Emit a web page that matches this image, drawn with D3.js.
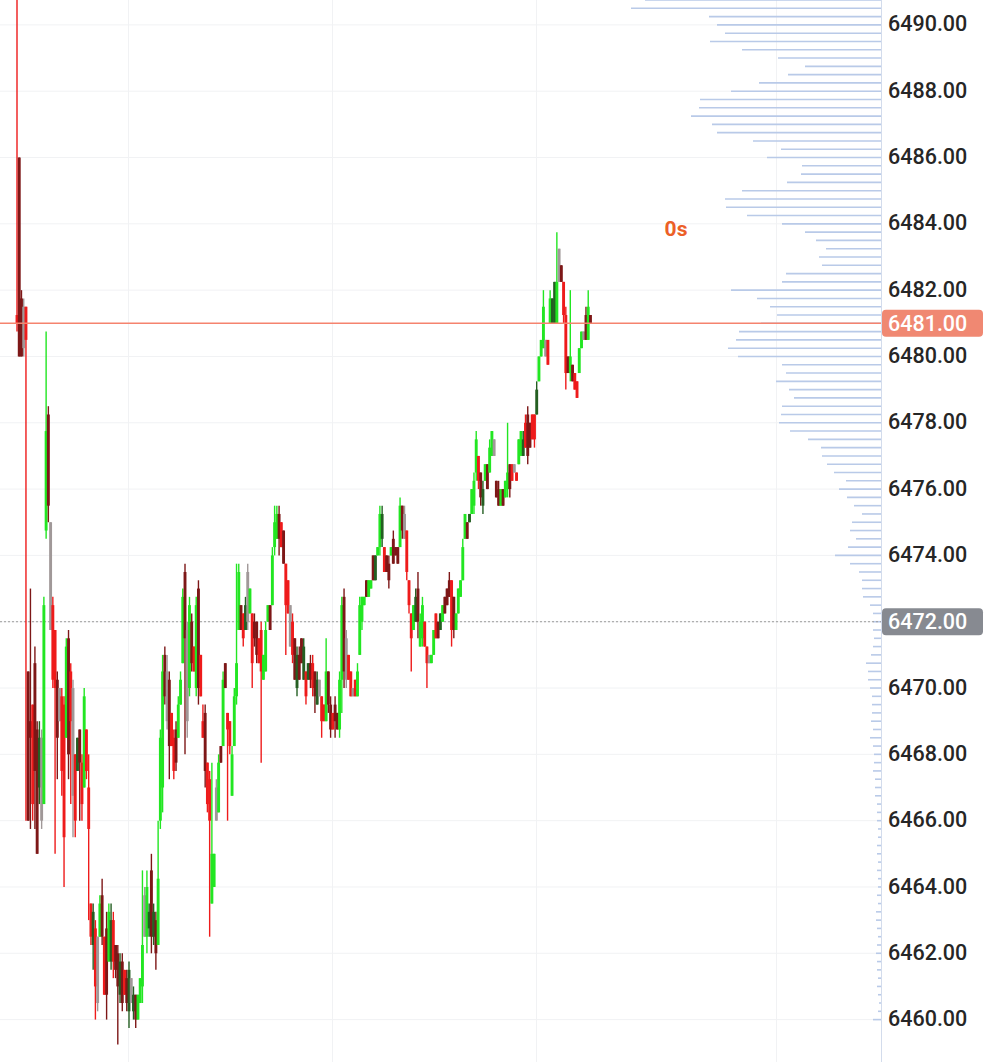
<!DOCTYPE html>
<html>
<head>
<meta charset="utf-8">
<script src="https://cdn.jsdelivr.net/npm/d3@7"></script>
<style>
  html, body { margin: 0; padding: 0; background: #fff; }
  svg { display: block; }
</style>
</head>
<body>
<svg id="chart" width="986" height="1062"></svg>
<script>
// one bar per period, left to right
let highs = [
  6491.75, 6486.0, 6482.0, 6481.75, 6481.5, 6470.5, 6473.0, 6469.5, 6471.25, 6469.0,
  6469.0, 6468.75, 6472.75, 6480.75, 6478.5, 6475.0, 6472.75, 6471.75, 6470.5, 6470.0,
  6470.0, 6469.75, 6471.5, 6471.75, 6470.75, 6470.25, 6468.0, 6468.5, 6468.75, 6468.0,
  6470.0, 6468.75, 6468.0, 6463.5, 6463.5, 6463.0, 6462.5, 6463.75, 6464.25, 6462.5,
  6463.25, 6463.5, 6463.5, 6463.25, 6462.25, 6462.25, 6462.0, 6462.0, 6461.5, 6461.5,
  6461.75, 6461.25, 6461.0, 6460.75, 6460.75, 6461.25, 6464.5, 6464.0, 6464.5, 6463.5,
  6465.0, 6463.5, 6463.25, 6466.0, 6468.75, 6471.0, 6471.25, 6471.0, 6470.5, 6469.25,
  6468.75, 6469.0, 6469.75, 6470.5, 6473.0, 6473.75, 6472.0, 6472.75, 6472.25, 6471.25,
  6472.75, 6473.25, 6471.0, 6469.5, 6469.5, 6467.75, 6467.5, 6467.75, 6465.0, 6467.25,
  6468.0, 6468.25, 6470.5, 6470.75, 6469.25, 6469.0, 6468.25, 6470.0, 6473.75, 6473.75,
  6472.5, 6472.25, 6472.75, 6473.75, 6473.0, 6472.25, 6472.25, 6472.0, 6471.5, 6472.0,
  6471.0, 6472.0, 6472.5, 6472.5, 6474.25, 6475.5, 6475.5, 6475.5, 6475.0, 6474.75,
  6473.75, 6473.25, 6472.5, 6472.25, 6471.5, 6471.25, 6471.25, 6471.5, 6471.5, 6470.5,
  6470.75, 6471.0, 6471.0, 6470.5, 6470.5, 6470.25, 6469.75, 6469.5, 6471.5, 6470.5,
  6469.75, 6469.25, 6469.75, 6469.25, 6470.5, 6472.75, 6473.0, 6471.75, 6471.0, 6470.5,
  6470.0, 6470.25, 6470.75, 6472.75, 6472.75, 6472.75, 6473.25, 6473.25, 6473.25, 6474.0,
  6474.0, 6474.25, 6475.5, 6475.5, 6474.25, 6474.0, 6474.0, 6474.25, 6474.75, 6474.25,
  6474.25, 6475.75, 6475.5, 6475.5, 6474.75, 6473.25, 6472.25, 6472.5, 6473.0, 6473.5,
  6472.25, 6472.75, 6472.0, 6471.25, 6471.0, 6471.0, 6471.75, 6472.25, 6472.0, 6472.25,
  6472.5, 6472.75, 6473.0, 6473.5, 6473.25, 6472.75, 6472.25, 6473.0, 6473.25, 6474.5,
  6475.25, 6475.0, 6475.25, 6476.0, 6476.5, 6477.75, 6477.0, 6476.5, 6476.25, 6476.75,
  6476.75, 6477.5, 6477.75, 6477.5, 6476.25, 6476.25, 6476.0, 6476.0, 6476.25, 6478.0,
  6476.75, 6476.75, 6476.75, 6476.5, 6477.5, 6477.75, 6477.75, 6478.25, 6478.5, 6478.0,
  6478.25, 6478.25, 6479.25, 6480.0, 6480.5, 6482.0, 6480.5, 6480.5, 6482.0, 6481.75,
  6482.25, 6483.75, 6483.25, 6482.75, 6482.25, 6481.5, 6480.0, 6482.0, 6479.75, 6479.5,
  6479.25, 6480.25, 6480.75, 6480.75, 6481.5, 6482.0, 6481.25
];
let lows = [
  6480.75, 6480.0, 6480.0, 6480.0, 6466.0, 6466.0, 6465.75, 6466.0, 6465.75, 6465.0,
  6466.5, 6465.75, 6466.5, 6474.5, 6475.0, 6471.75, 6470.0, 6465.0, 6467.25, 6469.0,
  6466.75, 6464.0, 6468.5, 6467.25, 6466.5, 6465.5, 6465.5, 6467.5, 6466.0, 6466.0,
  6467.0, 6467.25, 6463.0, 6462.25, 6461.5, 6460.0, 6460.25, 6462.5, 6462.25, 6460.75,
  6460.0, 6461.75, 6461.5, 6461.25, 6461.25, 6459.25, 6460.5, 6460.25, 6460.75, 6460.25,
  6459.75, 6460.5, 6460.0, 6459.75, 6460.0, 6460.5, 6460.5, 6462.5, 6462.0, 6462.5,
  6462.0, 6462.25, 6461.5, 6462.25, 6465.75, 6466.25, 6469.5, 6468.75, 6467.25, 6468.25,
  6467.25, 6467.5, 6468.5, 6469.5, 6470.75, 6468.0, 6468.5, 6469.75, 6470.5, 6470.5,
  6469.75, 6469.5, 6469.75, 6468.5, 6467.0, 6466.25, 6462.5, 6463.5, 6464.0, 6466.0,
  6466.25, 6467.75, 6468.25, 6470.0, 6466.0, 6468.0, 6466.75, 6468.25, 6469.5, 6471.75,
  6471.75, 6471.25, 6471.75, 6471.75, 6472.25, 6470.0, 6471.25, 6470.75, 6470.75, 6467.75,
  6470.25, 6470.5, 6472.0, 6471.75, 6472.5, 6474.0, 6474.5, 6474.0, 6474.25, 6473.75,
  6471.0, 6472.25, 6471.25, 6470.75, 6470.25, 6469.75, 6470.25, 6470.75, 6470.25, 6469.5,
  6470.25, 6470.0, 6469.75, 6469.25, 6469.5, 6469.75, 6468.5, 6469.0, 6469.0, 6469.25,
  6468.5, 6468.75, 6468.5, 6468.75, 6468.5, 6469.25, 6470.0, 6470.0, 6470.25, 6469.75,
  6469.75, 6469.75, 6469.75, 6471.0, 6471.75, 6472.5, 6472.75, 6472.75, 6473.0, 6473.25,
  6473.25, 6474.0, 6474.0, 6474.25, 6473.5, 6473.5, 6473.0, 6474.0, 6473.75, 6474.0,
  6473.75, 6474.25, 6474.5, 6474.5, 6473.25, 6472.25, 6470.5, 6471.75, 6472.0, 6471.5,
  6471.25, 6471.25, 6471.25, 6470.0, 6470.75, 6470.75, 6471.0, 6471.5, 6471.5, 6471.75,
  6472.0, 6472.25, 6472.5, 6472.75, 6471.25, 6471.5, 6471.75, 6472.25, 6472.75, 6473.25,
  6474.5, 6474.5, 6475.0, 6475.25, 6475.25, 6476.25, 6476.0, 6475.5, 6475.25, 6476.25,
  6476.0, 6476.5, 6477.0, 6477.0, 6475.75, 6475.5, 6475.5, 6475.5, 6475.75, 6475.75,
  6475.75, 6476.25, 6476.5, 6476.25, 6476.75, 6477.0, 6477.0, 6477.25, 6476.75, 6477.25,
  6477.5, 6477.25, 6478.25, 6479.25, 6480.0, 6480.25, 6480.0, 6479.75, 6481.0, 6481.0,
  6481.0, 6481.0, 6482.25, 6482.25, 6481.0, 6479.0, 6479.5, 6479.25, 6479.25, 6479.0,
  6478.75, 6479.5, 6480.25, 6480.5, 6480.5, 6480.5, 6481.0
];
let opens = [
  6481.25, 6486.0, 6481.75, 6481.5, 6481.5, 6470.5, 6469.0, 6469.5, 6470.75, 6468.75,
  6467.0, 6466.0, 6466.5, 6474.75, 6478.25, 6475.0, 6472.5, 6471.75, 6470.25, 6470.0,
  6469.75, 6469.5, 6468.5, 6471.5, 6470.5, 6470.0, 6468.0, 6467.5, 6468.75, 6467.75,
  6467.0, 6468.75, 6467.0, 6463.5, 6462.25, 6462.75, 6462.5, 6462.5, 6463.75, 6462.5,
  6462.75, 6461.75, 6461.75, 6463.0, 6462.25, 6462.0, 6460.75, 6461.75, 6461.5, 6461.25,
  6460.25, 6461.25, 6460.25, 6460.75, 6460.0, 6460.5, 6461.0, 6462.5, 6462.5, 6462.75,
  6464.5, 6462.5, 6463.0, 6462.25, 6466.0, 6467.0, 6471.0, 6470.5, 6470.25, 6469.25,
  6468.5, 6468.75, 6468.5, 6469.5, 6470.75, 6473.5, 6471.75, 6470.0, 6472.0, 6471.25,
  6470.0, 6473.0, 6471.0, 6469.0, 6469.25, 6467.75, 6467.25, 6463.5, 6464.0, 6466.0,
  6466.25, 6468.25, 6468.25, 6470.75, 6469.25, 6469.0, 6466.75, 6468.25, 6469.75, 6471.75,
  6472.5, 6472.25, 6471.75, 6473.5, 6472.25, 6472.25, 6472.0, 6472.0, 6471.5, 6471.75,
  6470.25, 6470.5, 6472.0, 6472.5, 6472.5, 6474.25, 6474.5, 6475.25, 6475.0, 6474.75,
  6473.75, 6473.25, 6472.5, 6472.0, 6471.5, 6470.0, 6471.0, 6471.5, 6470.25, 6470.5,
  6470.25, 6470.75, 6470.75, 6470.5, 6469.5, 6470.25, 6469.75, 6469.5, 6469.0, 6470.5,
  6469.5, 6469.25, 6469.5, 6469.25, 6468.75, 6470.25, 6472.75, 6470.25, 6471.0, 6470.5,
  6470.0, 6470.25, 6469.75, 6471.0, 6472.0, 6472.5, 6473.25, 6472.75, 6473.0, 6474.0,
  6473.25, 6474.0, 6474.25, 6474.5, 6474.25, 6474.0, 6473.75, 6474.0, 6474.5, 6474.25,
  6474.25, 6474.25, 6475.5, 6475.25, 6474.75, 6473.25, 6472.25, 6471.75, 6472.0, 6473.0,
  6471.25, 6471.5, 6472.0, 6471.25, 6471.0, 6470.75, 6471.0, 6472.25, 6472.0, 6471.75,
  6472.0, 6472.75, 6473.0, 6473.25, 6473.25, 6472.75, 6471.75, 6472.25, 6472.75, 6473.25,
  6474.5, 6475.0, 6475.0, 6475.25, 6475.5, 6476.5, 6477.0, 6476.5, 6475.5, 6476.25,
  6476.75, 6476.5, 6477.0, 6477.5, 6476.25, 6476.0, 6475.5, 6476.0, 6475.75, 6476.0,
  6476.75, 6476.75, 6476.75, 6476.5, 6476.75, 6477.0, 6477.0, 6478.0, 6478.25, 6478.0,
  6478.25, 6478.25, 6478.25, 6479.25, 6480.0, 6480.25, 6480.5, 6480.5, 6481.0, 6481.0,
  6481.0, 6481.0, 6483.25, 6482.75, 6482.25, 6481.25, 6480.0, 6479.5, 6479.75, 6479.5,
  6479.25, 6479.5, 6480.25, 6480.5, 6481.25, 6480.5, 6481.25
];
let closes = [
  6481.0, 6480.0, 6480.0, 6480.25, 6480.5, 6466.0, 6468.5, 6466.5, 6467.5, 6465.0,
  6468.5, 6468.5, 6472.5, 6477.75, 6475.5, 6471.75, 6470.25, 6470.0, 6468.5, 6469.0,
  6467.5, 6465.5, 6471.25, 6468.0, 6469.0, 6466.75, 6466.0, 6468.5, 6467.75, 6466.5,
  6469.75, 6467.5, 6465.75, 6462.5, 6463.25, 6461.0, 6460.5, 6463.5, 6462.5, 6460.75,
  6460.75, 6463.25, 6463.0, 6461.75, 6461.5, 6461.0, 6461.75, 6460.5, 6460.75, 6460.5,
  6461.5, 6460.5, 6460.75, 6460.0, 6460.75, 6461.25, 6462.25, 6463.75, 6464.0, 6463.25,
  6462.5, 6463.25, 6462.0, 6464.25, 6468.5, 6470.5, 6469.75, 6469.0, 6468.25, 6468.25,
  6467.5, 6467.75, 6469.5, 6470.25, 6472.75, 6471.5, 6469.0, 6472.5, 6470.75, 6470.5,
  6472.5, 6470.0, 6469.75, 6468.5, 6467.5, 6466.5, 6466.0, 6465.0, 6465.0, 6467.0,
  6467.75, 6467.75, 6470.25, 6470.0, 6468.75, 6468.25, 6468.0, 6469.75, 6470.75, 6473.5,
  6471.75, 6471.5, 6472.5, 6472.0, 6473.0, 6470.75, 6471.5, 6471.0, 6470.75, 6470.5,
  6471.0, 6471.75, 6472.5, 6471.75, 6474.0, 6475.0, 6475.25, 6474.5, 6474.25, 6473.75,
  6472.5, 6472.25, 6471.25, 6471.0, 6470.25, 6471.0, 6470.25, 6470.75, 6471.25, 6469.75,
  6470.75, 6470.25, 6470.0, 6469.75, 6470.25, 6469.75, 6469.0, 6469.0, 6470.5, 6469.5,
  6468.75, 6468.75, 6469.0, 6468.75, 6470.25, 6472.5, 6470.5, 6471.5, 6470.25, 6469.75,
  6469.75, 6469.75, 6470.5, 6472.5, 6472.75, 6472.75, 6472.75, 6473.25, 6473.25, 6473.25,
  6474.0, 6474.25, 6475.25, 6475.25, 6473.5, 6473.5, 6473.25, 6474.25, 6473.75, 6474.0,
  6473.75, 6475.5, 6474.75, 6474.5, 6473.5, 6472.5, 6471.5, 6472.5, 6472.75, 6472.0,
  6472.0, 6472.5, 6471.25, 6470.75, 6470.75, 6471.0, 6471.75, 6471.5, 6471.5, 6472.25,
  6472.5, 6472.25, 6472.5, 6472.75, 6471.75, 6471.75, 6472.25, 6473.0, 6473.25, 6474.25,
  6475.25, 6474.5, 6475.25, 6476.0, 6476.25, 6477.5, 6476.25, 6475.75, 6476.0, 6476.75,
  6476.0, 6477.25, 6477.75, 6477.0, 6475.75, 6475.5, 6476.0, 6475.5, 6476.25, 6476.5,
  6476.0, 6476.25, 6476.5, 6476.25, 6477.5, 6477.75, 6477.5, 6477.25, 6477.0, 6477.25,
  6477.5, 6477.5, 6479.0, 6480.0, 6480.5, 6481.5, 6480.0, 6479.75, 6481.75, 6481.75,
  6482.25, 6482.25, 6482.25, 6482.25, 6481.25, 6479.5, 6479.5, 6480.0, 6479.25, 6479.0,
  6478.75, 6480.25, 6480.75, 6480.75, 6480.5, 6481.5, 6481.0
];
// G bright up, R bright down, g dark up, r dark down, n neutral
let shades = (
  'RrrnRrrRrr' + 'gnGGrnRRrn' + 'RRGrRnRgrR' + 'GRRRgRnGrR' + 'rGgRrrgrRr' +
  'gngrGGGnGg' + 'rgrGGGrnrR' + 'RrGGGrnGrR' + 'GrRRrRRGGn' + 'GrGrRRGGGG' +
  'rRgnGRrrRR' + 'GGGrGGGrRr' + 'RRnRrgrrgR' + 'grRrgnRRGr' + 'rRrrGGrnRR' +
  'nRGGGGrGGr' + 'gGGgRrrGrr' + 'rGrnRRRGgr' + 'GGRRnGGRrg' + 'GrrrRrGGGG' +
  'GrgGGGRrgG' + 'rGGnrrGrGG' + 'rRnRGGgRrr' + 'RRgGGGnRGg' + 'gGnrRRrGrR' +
  'RGGnrGr').split('');

// volume at price, from 6490.75 down to 6460.00 in 0.25 steps
let profileVolumes = [
  236, 250, 172, 164, 156, 171, 139, 103, 76, 93,
  122, 150, 181, 182, 190, 169, 164, 128, 100, 114,
  79, 80, 94, 139, 156, 155, 134, 99, 76, 65,
  55, 62, 59, 95, 99, 150, 124, 111, 104, 120,
  142, 145, 153, 143, 99, 95, 105, 92, 87, 99,
  100, 102, 91, 73, 60, 59, 54, 47, 35, 42,
  34, 27, 19, 29, 31, 25, 33, 46, 31, 22,
  19, 19, 18, 11, 8, 8, 8, 7, 8, 10,
  15, 13, 13, 11, 9, 9, 9, 10, 8, 11,
  8, 7, 7, 8, 6, 6, 6, 4, 4, 4,
  3, 3, 4, 4, 3, 4, 3, 3, 4, 3,
  5, 5, 4, 3, 4, 5, 4, 4, 3, 4,
  3, 2, 3, 8
];
let profileTop = 6490.75;
let tickSize = 0.25;

let priceTicks = [6460, 6462, 6464, 6466, 6468, 6470, 6472, 6474, 6476, 6478, 6480, 6482, 6484, 6486, 6488, 6490];
let timeMarks = [49.5, 140.5, 231.5, 339];  // bar index of the vertical grid lines
let lastPrice = 6481.00;
let markPrice = 6472.00;
let countdown = '0s';

let width = 986, height = 1062, plotRight = 881;
let svg = d3.select('#chart');

let y = d3.scaleLinear().domain([6460, 6490]).range([1019.6, 24.9]);
let x = d3.scaleLinear().domain([0, 385.7]).range([17, plotRight]);
let volLen = d3.scaleLinear().domain([0, 250]).range([0, 250]);

let shadeColor = {G: '#22e622', R: '#ee1b1b', g: '#245f22', r: '#7d1717', n: '#a09898'};

// grid
svg.append('g').selectAll('line')
    .data(priceTicks)
    .enter().append('line')
    .attr('x1', 0).attr('x2', plotRight)
    .attr('y1', d => y(d)).attr('y2', d => y(d))
    .style('stroke', '#f1f2f4');

svg.append('g').selectAll('line')
    .data(timeMarks)
    .enter().append('line')
    .attr('x1', d => Math.round(x(d)) + 0.5).attr('x2', d => Math.round(x(d)) + 0.5)
    .attr('y1', 0).attr('y2', height)
    .style('stroke', '#f1f2f4');

// volume profile
let levels = profileVolumes.map((v, i) => ({price: profileTop - i * tickSize, vol: v}));
svg.append('g').selectAll('line')
    .data(levels)
    .enter().append('line')
    .attr('x1', d => plotRight - volLen(d.vol)).attr('x2', plotRight)
    .attr('y1', d => y(d.price)).attr('y2', d => y(d.price))
    .style('stroke', '#b9cae8')
    .style('stroke-width', 1.6);

svg.append('line')
    .attr('x1', plotRight + 0.5).attr('x2', plotRight + 0.5)
    .attr('y1', 0).attr('y2', height)
    .style('stroke', '#d3dcec');

// mark price dotted line
svg.append('line')
    .attr('x1', 0).attr('x2', plotRight)
    .attr('y1', y(markPrice)).attr('y2', y(markPrice))
    .style('stroke', '#9b9b9b')
    .style('stroke-dasharray', '2,2');

// bars
let bars = highs.map((h, i) => ({i: i, h: h, l: lows[i], o: opens[i], c: closes[i], s: shades[i]}));
let barG = svg.append('g').selectAll('g')
    .data(bars)
    .enter().append('g');

barG.append('line')
    .attr('x1', d => x(d.i)).attr('x2', d => x(d.i))
    .attr('y1', d => y(d.h)).attr('y2', d => y(d.l))
    .style('stroke', d => shadeColor[d.s])
    .style('stroke-width', 1.4);

barG.append('rect')
    .attr('x', d => x(d.i) - 1.45)
    .attr('width', 2.9)
    .attr('y', d => y(Math.max(d.o, d.c)))
    .attr('height', d => Math.max(1.5, Math.abs(y(d.o) - y(d.c))))
    .style('fill', d => shadeColor[d.s]);

// last price line
svg.append('line')
    .attr('x1', 0).attr('x2', plotRight)
    .attr('y1', y(lastPrice)).attr('y2', y(lastPrice))
    .style('stroke', '#f5836e')
    .style('stroke-width', 1.4);

// price axis
let axis = svg.append('g')
    .attr('transform', 'translate(' + plotRight + ',0)')
    .call(d3.axisRight(y).tickValues(priceTicks).tickFormat(d3.format('.2f')).tickSize(0).tickPadding(7));
axis.select('.domain').remove();
axis.selectAll('text')
    .attr('dy', '0.28em')
    .style('font-family', 'Roboto, sans-serif')
    .style('font-size', '21.5px')
    .style('font-weight', 500)
    .style('fill', '#262626');

function priceTag(price, color) {
    let g = svg.append('g').attr('transform', 'translate(' + plotRight + ',' + y(price) + ')');
    g.append('rect')
        .attr('x', 1).attr('y', -13.5)
        .attr('width', 101).attr('height', 27)
        .attr('rx', 4)
        .style('fill', color);
    g.append('text')
        .attr('x', 7).attr('dy', '0.34em')
        .style('font-family', 'Roboto, sans-serif')
        .style('font-size', '21.5px')
        .style('font-weight', 500)
        .style('fill', '#fff')
        .text(d3.format('.2f')(price));
}
priceTag(lastPrice, '#f08872');
priceTag(markPrice, '#878a91');

svg.append('text')
    .attr('x', 676).attr('y', 228)
    .attr('text-anchor', 'middle')
    .attr('dy', '0.36em')
    .style('font-family', 'Roboto, sans-serif')
    .style('font-size', '21px')
    .style('font-weight', 700)
    .style('fill', '#ec6027')
    .text(countdown);
</script>
</body>
</html>
